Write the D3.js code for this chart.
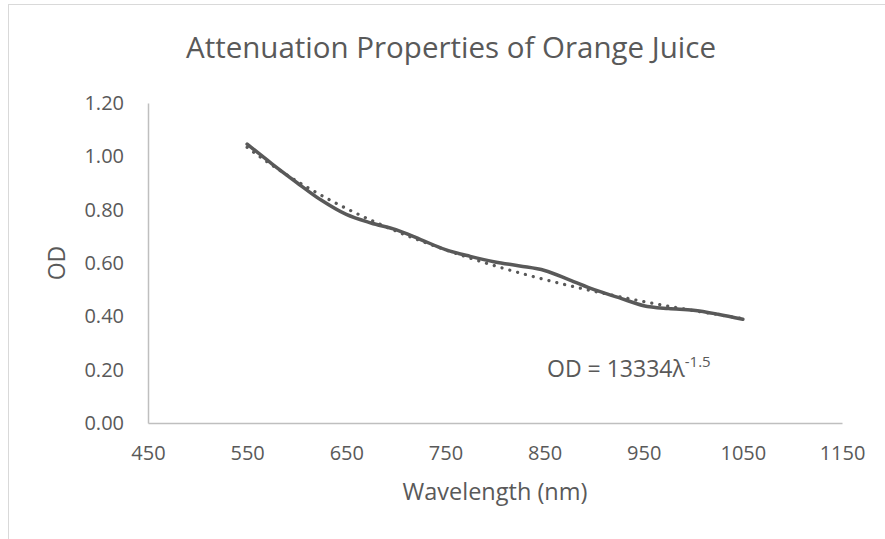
<!DOCTYPE html>
<html>
<head>
<meta charset="utf-8">
<script src="https://cdn.jsdelivr.net/npm/d3@7"></script>
<style>
  html, body { margin: 0; padding: 0; background: #ffffff; }
  svg { display: block; font-family: "Open Sans", "Noto Sans", sans-serif; }
</style>
</head>
<body>
<svg id="chart" width="885" height="539"></svg>
<script>
// Measured optical density of orange juice by wavelength
const wavelengths = [550, 575, 600, 625, 650, 675, 700, 725, 750, 775, 800,
                     825, 850, 875, 900, 925, 950, 975, 1000, 1025, 1050];
const odValues = [1.046, 0.972, 0.902, 0.835, 0.782, 0.750, 0.725, 0.688, 0.650, 0.625, 0.604,
                  0.589, 0.572, 0.537, 0.500, 0.470, 0.440, 0.429, 0.423, 0.408, 0.389];

// Power-law trendline OD = a * λ^b
const fitCoeff = 13334;
const fitExponent = -1.5;

const xTicks = [450, 550, 650, 750, 850, 950, 1050, 1150];
const yTicks = [0, 0.2, 0.4, 0.6, 0.8, 1.0, 1.2];

const textColor = "#595959";
const lineColor = "#595959";
const axisColor = "#bfbfbf";

const svg = d3.select("#chart");
const W = 885, H = 539;
const plot = { left: 148, right: 842, top: 103, bottom: 423 };

// outer chart frame
svg.append("rect")
  .attr("x", 8.5).attr("y", 4.5)
  .attr("width", W + 10).attr("height", H + 10)
  .attr("fill", "#ffffff")
  .attr("stroke", "#d9d9d9").attr("stroke-width", 1);

const x = d3.scaleLinear().domain([450, 1150]).range([plot.left, plot.right]);
const y = d3.scaleLinear().domain([0, 1.2]).range([plot.bottom, plot.top]);

// axes (labels only, no tick marks)
const xAxis = d3.axisBottom(x).tickValues(xTicks).tickSize(0).tickPadding(23)
  .tickFormat(d3.format("d"));
const yAxis = d3.axisLeft(y).tickValues(yTicks).tickSize(0).tickPadding(24)
  .tickFormat(d3.format(".2f"));

const gx = svg.append("g").attr("transform", `translate(0,${plot.bottom})`).call(xAxis);
const gy = svg.append("g").attr("transform", `translate(${plot.left},0)`).call(yAxis);

[gx, gy].forEach(g => {
  g.select(".domain").attr("stroke", axisColor).attr("stroke-width", 1.5);
  g.selectAll("text")
    .attr("fill", textColor)
    .attr("font-size", 20)
    .attr("font-family", "'Open Sans', sans-serif");
});

// data series (smoothed)
const series = wavelengths.map((w, i) => ({ w, od: odValues[i] }));
const line = d3.line()
  .x(d => x(d.w))
  .y(d => y(d.od))
  .curve(d3.curveCatmullRom.alpha(0.5));

svg.append("path")
  .datum(series)
  .attr("fill", "none")
  .attr("stroke", lineColor)
  .attr("stroke-width", 3.5)
  .attr("stroke-linejoin", "round")
  .attr("stroke-linecap", "round")
  .attr("d", line);

// trendline from the fitted power law
const fitPoints = d3.range(wavelengths[0], wavelengths[wavelengths.length - 1] + 1, 5)
  .map(w => ({ w, od: fitCoeff * Math.pow(w, fitExponent) }));
svg.append("path")
  .datum(fitPoints)
  .attr("fill", "none")
  .attr("stroke", lineColor)
  .attr("stroke-width", 3.2)
  .attr("stroke-linecap", "round")
  .attr("stroke-dasharray", "0.1,8")
  .attr("d", d3.line().x(d => x(d.w)).y(d => y(d.od)));

// trendline equation
const eq = svg.append("text")
  .attr("x", 547).attr("y", 377)
  .attr("fill", textColor)
  .attr("font-size", 23);
eq.append("tspan").text(`OD = ${fitCoeff}λ`);
eq.append("tspan").attr("dy", -10).attr("font-size", 15).text(`${fitExponent}`);

// title
svg.append("text")
  .attr("x", 451).attr("y", 58)
  .attr("text-anchor", "middle")
  .attr("fill", textColor)
  .attr("font-size", 29.5)
  .text("Attenuation Properties of Orange Juice");

// axis titles
svg.append("text")
  .attr("x", (plot.left + plot.right) / 2).attr("y", 500)
  .attr("text-anchor", "middle")
  .attr("fill", textColor)
  .attr("font-size", 23.5)
  .text("Wavelength (nm)");

svg.append("text")
  .attr("transform", `translate(65,${(plot.top + plot.bottom) / 2}) rotate(-90)`)
  .attr("text-anchor", "middle")
  .attr("fill", textColor)
  .attr("font-size", 23)
  .text("OD");
</script>
</body>
</html>
